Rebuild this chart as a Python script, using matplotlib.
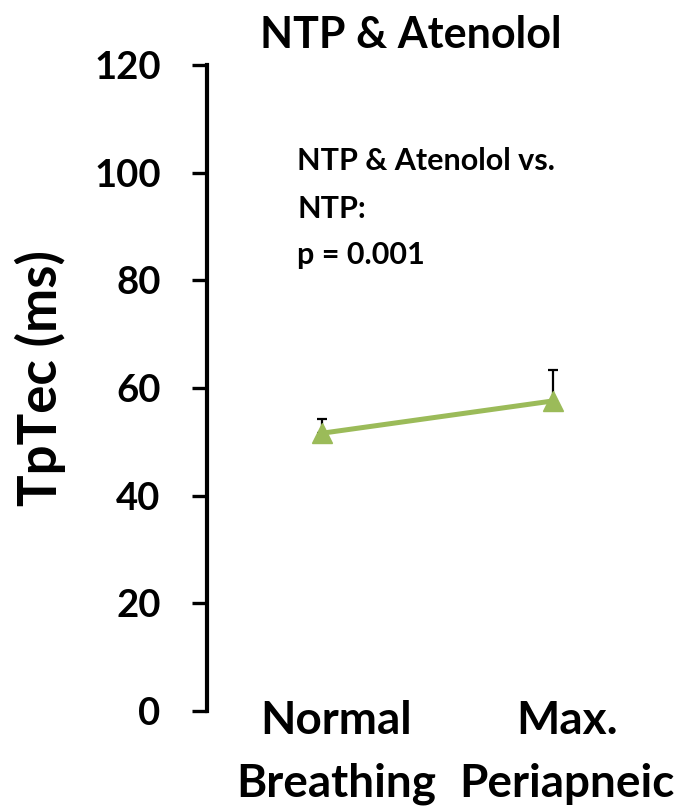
import matplotlib
matplotlib.use("Agg")
import matplotlib.pyplot as plt
from matplotlib.transforms import ScaledTranslation

categories = ["Normal\nBreathing", "Max.\nPeriapneic"]
values = [51.6, 57.6]
errors = [2.6, 5.7]
yticks = [0, 20, 40, 60, 80, 100, 120]

plt.rcParams['font.family'] = ['Lato', 'DejaVu Sans']
plt.rcParams['font.weight'] = 'bold'

W, H = 699, 807
fig = plt.figure(figsize=(W / 100, H / 100), dpi=100)
ax = fig.add_axes([206.5 / W, 1 - 711 / H, 462 / W, 646 / H])

x = list(range(len(categories)))
ax.errorbar(x, values, yerr=[[0, 0], errors], fmt='none', ecolor='black',
            elinewidth=1.6, capsize=3.5, capthick=1.6, zorder=2)
ax.plot(x, values, color='#9BBB59', lw=3.6, marker='^', markersize=15,
        markerfacecolor='#9BBB59', markeredgecolor='#9BBB59', zorder=3)

ax.set_xlim(-0.5, 1.5)
ax.set_ylim(0, 120)
ax.set_yticks(yticks)
ax.set_yticklabels([str(t) for t in yticks], fontsize=27.5, fontweight='bold')
ax.set_xticks(x)
ax.set_xticklabels(categories, fontsize=33, fontweight='bold', linespacing=1.62)
ax.tick_params(axis='x', length=0, pad=-8)
ax.tick_params(axis='y', direction='out', length=11, width=2.4, pad=22)
off = ScaledTranslation(14 / 100, 0, fig.dpi_scale_trans)
for lab in ax.get_xticklabels():
    lab.set_transform(lab.get_transform() + off)
for s in ['top', 'right', 'bottom']:
    ax.spines[s].set_visible(False)
ax.spines['left'].set_linewidth(3)

ax.set_ylabel("TpTec (ms)", fontsize=38, fontweight='bold')
ax.yaxis.set_label_coords((66 - 206.5) / 462, (711 - 378) / 646)

fig.text(411 / W, 1 - 48 / H, "NTP & Atenolol", fontsize=31, fontweight='bold',
         ha='center', va='baseline')

note_lines = ["NTP & Atenolol vs.", "NTP:", "p = 0.001"]
note_base = [170, 218, 264]
for line, yb in zip(note_lines, note_base):
    fig.text(297 / W, 1 - yb / H, line, fontsize=22, fontweight='bold',
             ha='left', va='baseline')

fig.savefig("out.png", dpi=100)
